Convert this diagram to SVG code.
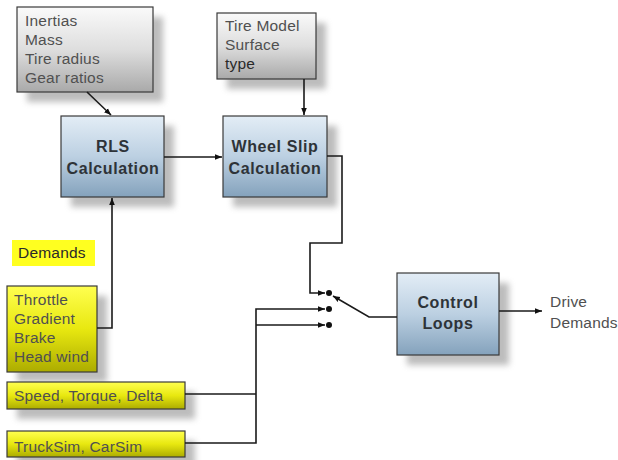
<svg xmlns="http://www.w3.org/2000/svg" width="618" height="460" viewBox="0 0 618 460">
<defs>
<linearGradient id="gGray" x1="0" y1="0" x2="0" y2="1">
<stop offset="0" stop-color="#fafafa"/><stop offset="0.5" stop-color="#dedede"/><stop offset="1" stop-color="#a9a9a9"/>
</linearGradient>
<linearGradient id="gBlue" x1="0" y1="0" x2="0" y2="1">
<stop offset="0" stop-color="#e3edf6"/><stop offset="0.5" stop-color="#bcd0e2"/><stop offset="1" stop-color="#84a2bc"/>
</linearGradient>
<linearGradient id="gYel" x1="0" y1="0" x2="0" y2="1">
<stop offset="0" stop-color="#ffff50"/><stop offset="0.5" stop-color="#e8e810"/><stop offset="1" stop-color="#acac00"/>
</linearGradient>
<filter id="sh" x="-20%" y="-20%" width="150%" height="150%">
<feGaussianBlur stdDeviation="3"/>
</filter>
<marker id="ar" viewBox="0 0 10 10" refX="10" refY="5" markerWidth="7" markerHeight="7" orient="auto" markerUnits="userSpaceOnUse">
<path d="M0,1 L10,5 L0,9 z" fill="#111"/>
</marker>
</defs>
<style>
.box{stroke:#3a3a3a;stroke-width:1.2}
.gray{fill:url(#gGray)}
.blue{fill:url(#gBlue)}
.yel{fill:url(#gYel)}
.shadow{fill:#a0a0a0;opacity:0.7;filter:url(#sh)}
.t{font-family:"Liberation Sans",Arial,sans-serif;font-size:15.5px;letter-spacing:0.2px;fill:#505050}
.td{font-family:"Liberation Sans",Arial,sans-serif;font-size:15.5px;letter-spacing:0.2px;fill:#2a2a2a}
.b{font-family:"Liberation Sans",Arial,sans-serif;font-size:16px;font-weight:bold;fill:#2e3338;text-anchor:middle;letter-spacing:0.6px}
.c{fill:none;stroke:#1a1a1a;stroke-width:1.6}
.dot{fill:#111}
</style>
<rect width="618" height="460" fill="#ffffff"/>

<g id="inertias">
<rect class="shadow" x="27" y="17" width="136" height="85"/>
<rect class="box gray" x="17" y="7" width="136" height="85"/>
<text class="t" x="25" y="26">Inertias</text>
<text class="t" x="25" y="45">Mass</text>
<text class="t" x="25" y="64">Tire radius</text>
<text class="t" x="25" y="83">Gear ratios</text>
</g>

<g id="tiremodel">
<rect class="shadow" x="227" y="23" width="99" height="66"/>
<rect class="box gray" x="217" y="13" width="99" height="66"/>
<text class="t" x="225" y="31">Tire Model</text>
<text class="t" x="225" y="50">Surface</text>
<text class="td" x="225" y="69">type</text>
</g>

<g id="rls">
<rect class="shadow" x="71" y="126" width="103" height="81"/>
<rect class="box blue" x="61" y="116" width="103" height="81"/>
<text class="b" x="113" y="152">RLS</text>
<text class="b" x="113" y="174">Calculation</text>
</g>

<g id="wheelslip">
<rect class="shadow" x="233" y="126" width="104" height="81"/>
<rect class="box blue" x="223" y="116" width="104" height="81"/>
<text class="b" x="275" y="152">Wheel Slip</text>
<text class="b" x="275" y="174">Calculation</text>
</g>

<g id="demands">
<rect x="12" y="240" width="83" height="26" fill="#ffff20"/>
<text class="td" x="18" y="258">Demands</text>
</g>

<g id="throttle">
<rect class="shadow" x="17" y="296" width="90" height="86"/>
<rect class="box yel" x="7" y="286" width="90" height="86"/>
<text class="t" x="14" y="305">Throttle</text>
<text class="t" x="14" y="324">Gradient</text>
<text class="t" x="14" y="343">Brake</text>
<text class="t" x="14" y="362">Head wind</text>
</g>

<g id="speed">
<rect class="shadow" x="17" y="392" width="178" height="27"/>
<rect class="box yel" x="7" y="382" width="178" height="27"/>
<text class="t" x="14" y="401">Speed, Torque, Delta</text>
</g>

<g id="trucksim">
<rect class="shadow" x="17" y="441" width="178" height="26"/>
<rect class="box yel" x="7" y="431" width="178" height="26"/>
<text class="t" x="14" y="452">TruckSim, CarSim</text>
</g>

<g id="control">
<rect class="shadow" x="407" y="283" width="102" height="82"/>
<rect class="box blue" x="397" y="273" width="102" height="82"/>
<text class="b" x="448" y="308">Control</text>
<text class="b" x="448" y="329">Loops</text>
</g>

<g id="output">
<text class="t" x="550" y="307">Drive</text>
<text class="t" x="550" y="328">Demands</text>
</g>

<g id="connectors">
<line class="c" x1="87" y1="92" x2="111" y2="115" marker-end="url(#ar)"/>
<line class="c" x1="304" y1="79" x2="304" y2="115" marker-end="url(#ar)"/>
<line class="c" x1="164" y1="157" x2="222" y2="157" marker-end="url(#ar)"/>
<polyline class="c" points="97,328 112,328 112,198" marker-end="url(#ar)"/>
<polyline class="c" points="327,156 342,156 342,243 310,243 310,293 325,293" marker-end="url(#ar)"/>
<polyline class="c" points="185,394 256,394"/>
<polyline class="c" points="185,443 256,443 256,309 325,309" marker-end="url(#ar)"/>
<polyline class="c" points="256,325 325,325" marker-end="url(#ar)"/>
<circle class="dot" cx="329" cy="293" r="3"/>
<circle class="dot" cx="329" cy="309" r="3"/>
<circle class="dot" cx="329" cy="325" r="3"/>
<polyline class="c" points="397,317 369,317 333,296" marker-end="url(#ar)"/>
<line class="c" x1="499" y1="311" x2="542" y2="311" marker-end="url(#ar)"/>
</g>
</svg>
